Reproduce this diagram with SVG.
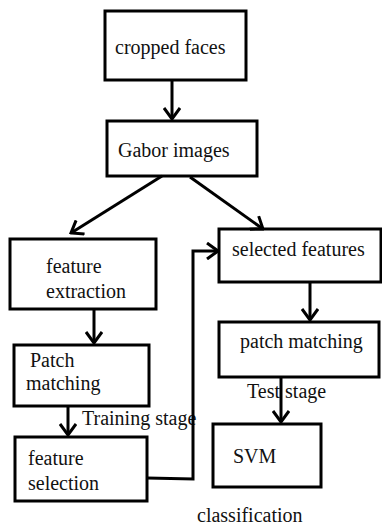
<svg xmlns="http://www.w3.org/2000/svg" width="382" height="527" viewBox="0 0 382 527">
<defs>
<style>
.box{fill:#fff;stroke:#000;stroke-width:3}
.t{font-family:'Liberation Serif','Times New Roman',Tinos,'DejaVu Serif',serif;font-size:20px;fill:#111}
.c{fill:none;stroke:#000;stroke-width:3}
</style>
<marker id="ah" markerUnits="userSpaceOnUse" markerWidth="14" markerHeight="18" viewBox="0 0 14 18" refX="12" refY="9" orient="auto">
<path d="M1,1 L12,9 L1,17" fill="none" stroke="#000" stroke-width="3"/>
</marker>
</defs>
<rect width="382" height="527" fill="#fff"/>
<g id="cropped-faces"><rect class="box" x="105" y="11" width="141" height="69"/><text class="t" x="115" y="54">cropped faces</text></g>
<g id="gabor-images"><rect class="box" x="107" y="121" width="150" height="55"/><text class="t" x="118" y="157">Gabor images</text></g>
<g id="feature-extraction"><rect class="box" x="10" y="239" width="146" height="70"/><text class="t" x="46" y="273">feature</text><text class="t" x="46" y="298">extraction</text></g>
<g id="patch-matching-left"><rect class="box" x="14" y="345" width="135" height="61"/><text class="t" x="30" y="367">Patch</text><text class="t" x="26" y="390">matching</text></g>
<g id="feature-selection"><rect class="box" x="15" y="437" width="132" height="64"/><text class="t" x="28" y="465">feature</text><text class="t" x="28" y="490">selection</text></g>
<g id="selected-features"><rect class="box" x="219" y="229" width="162" height="53"/><text class="t" x="232" y="256">selected features</text></g>
<g id="patch-matching-right"><rect class="box" x="219" y="322" width="160" height="55"/><text class="t" x="240" y="348">patch matching</text></g>
<g id="svm"><rect class="box" x="213" y="424" width="108" height="63"/><text class="t" x="233" y="463">SVM</text></g>
<g id="labels">
<text class="t" x="82" y="425">Training stage</text>
<text class="t" x="247" y="398">Test stage</text>
<text class="t" x="197" y="522">classification</text>
</g>
<g id="connectors">
<line class="c" x1="172" y1="80" x2="172" y2="119" marker-end="url(#ah)"/>
<line class="c" x1="162" y1="176" x2="71" y2="233" marker-end="url(#ah)"/>
<line class="c" x1="190" y1="177" x2="263" y2="229" marker-end="url(#ah)"/>
<line class="c" x1="94" y1="309" x2="94" y2="343" marker-end="url(#ah)"/>
<line class="c" x1="68" y1="406" x2="68" y2="435" marker-end="url(#ah)"/>
<polyline class="c" points="147,478 193,479 193,251 218,251" marker-end="url(#ah)"/>
<line class="c" x1="310" y1="282" x2="310" y2="320" marker-end="url(#ah)"/>
<line class="c" x1="281" y1="377" x2="281" y2="422" marker-end="url(#ah)"/>
</g>
</svg>
